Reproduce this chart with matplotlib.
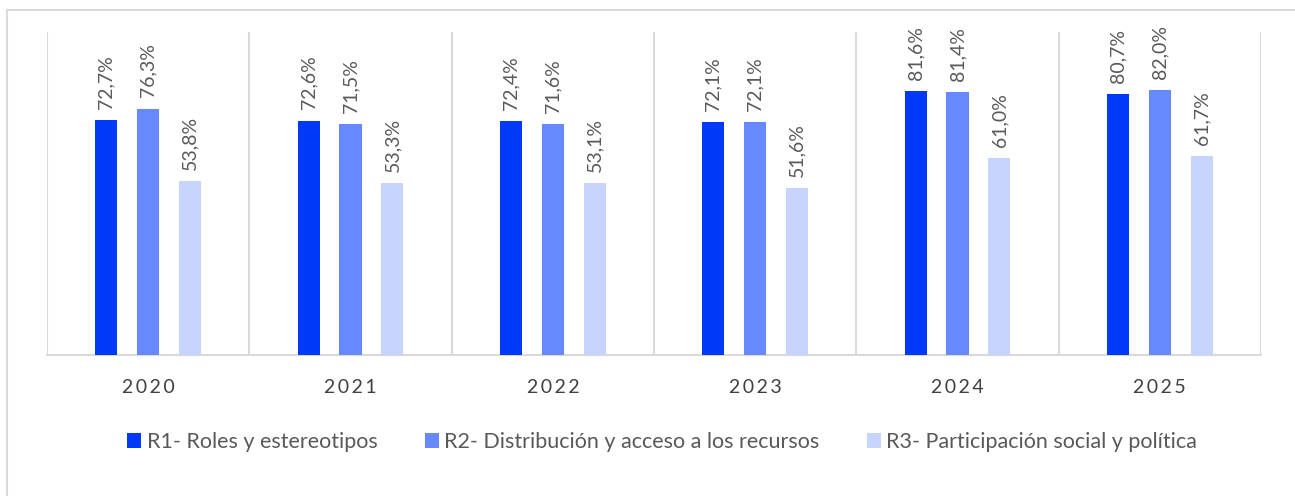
import numpy as np
import matplotlib.pyplot as plt
from matplotlib.patches import Rectangle

years = ['2020', '2021', '2022', '2023', '2024', '2025']
r1 = [72.7, 72.6, 72.4, 72.1, 81.6, 80.7]
r2 = [76.3, 71.5, 71.6, 72.1, 81.4, 82.0]
r3 = [53.8, 53.3, 53.1, 51.6, 61.0, 61.7]
series_names = ['R1- Roles y estereotipos',
                'R2- Distribución y acceso a los recursos',
                'R3- Participación social y política']
colors = ['#003AF8', '#6689FF', '#C6D4FF']

plt.rcParams['font.family'] = ['Lato', 'DejaVu Sans']
text_color = '#595959'
grid_color = '#D9D9D9'

fig = plt.figure(figsize=(12.95, 4.96), dpi=100)
ax = fig.add_axes([47 / 1295, 1 - 355 / 496, (1261 - 47) / 1295, (355 - 32) / 496])

# outer frame
fig.patches.append(Rectangle((7 / 1295, -0.1), 1.2, 1 - 10 / 496 + 0.1,
                             transform=fig.transFigure, fill=False,
                             edgecolor=grid_color, linewidth=1.5))

x = np.arange(len(years))
width = 0.109
offset = 0.207
for i, (vals, name, c) in enumerate(zip([r1, r2, r3], series_names, colors)):
    pos = x + (i - 1) * offset
    ax.bar(pos, vals, width=width, color=c, label=name, zorder=3)
    for px, v in zip(pos, vals):
        ax.annotate(f'{v:.1f}%'.replace('.', ','), (px, v),
                    xytext=(0, 8), textcoords='offset points',
                    rotation=90, ha='center', va='bottom',
                    fontsize=14, color=text_color)

ax.set_xlim(-0.5, len(years) - 0.5)
ax.set_ylim(0, 100)
ax.set_yticks([])
for b in np.arange(-0.5, len(years), 1.0):
    ax.axvline(b, color=grid_color, linewidth=1.5, zorder=1)

# letter-spaced year labels
ax.set_xticks(x)
ax.set_xticklabels(['\u2009'.join(y) for y in years], fontsize=14, color='#404040')
ax.tick_params(axis='x', length=0, pad=17)
for s in ['top', 'right', 'left']:
    ax.spines[s].set_visible(False)
ax.spines['bottom'].set_color(grid_color)
ax.spines['bottom'].set_linewidth(1.5)

leg = fig.legend(loc='center', bbox_to_anchor=(662 / 1295, 1 - 442 / 496),
                 ncol=3, frameon=False, fontsize=15.5, handlelength=0.65,
                 handleheight=0.65, handletextpad=0.25, columnspacing=2.2)
for t in leg.get_texts():
    t.set_color(text_color)

fig.savefig('out.png', dpi=100, facecolor='white')
